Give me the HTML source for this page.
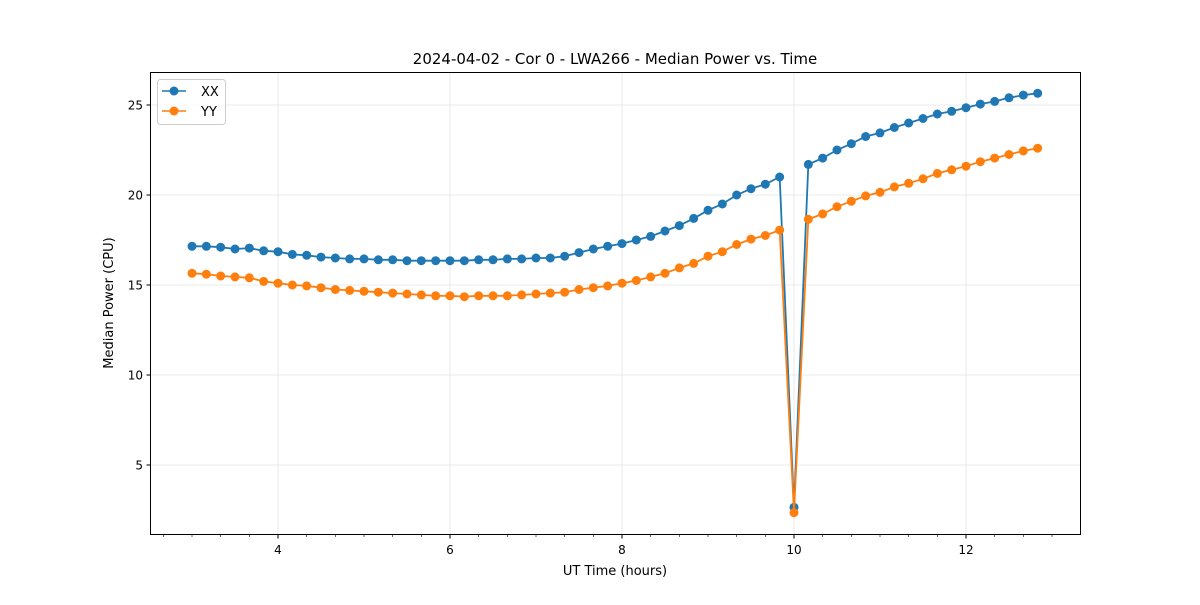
<!DOCTYPE html>
<html><head><meta charset="utf-8"><style>
body{margin:0;background:#fff;font-family:"Liberation Sans","DejaVu Sans",sans-serif;}
svg text{font-family:"DejaVu Sans","Liberation Sans",sans-serif;}
</style></head><body>
<svg id="chart" width="1200" height="600" xmlns="http://www.w3.org/2000/svg">
<rect width="1200" height="600" fill="#fff"/>
<g id="grid"></g><g id="axes"></g><g id="series"></g>
<rect x="150.5" y="72.5" width="930" height="462" fill="none" stroke="#000" stroke-width="1"/>
<text x="615" y="64" font-size="15" text-anchor="middle">2024-04-02 - Cor 0 - LWA266 - Median Power vs. Time</text>
<text x="615" y="575" font-size="13" text-anchor="middle">UT Time (hours)</text>
<text transform="translate(113,303) rotate(-90)" font-size="13" text-anchor="middle">Median Power (CPU)</text>
<g>
<rect x="157.5" y="79.5" width="68" height="45" rx="3" fill="#fff" fill-opacity="0.8" stroke="#ccc"/>
<g><line x1="162" x2="186" y1="91" y2="91" stroke="#1f77b4" stroke-width="1.5"/><circle cx="174" cy="91" r="4.5" fill="#1f77b4"/><text x="201" y="96" font-size="13">XX</text></g>
<g><line x1="162" x2="186" y1="111" y2="111" stroke="#ff7f0e" stroke-width="1.5"/><circle cx="174" cy="111" r="4.5" fill="#ff7f0e"/><text x="201" y="116" font-size="13">YY</text></g>
</g>
</svg>
<script>
const xTicks=[4,6,8,10,12];
const yTicks=[5,10,15,20,25];
const xx=[17.15,17.15,17.1,17.0,17.05,16.9,16.85,16.7,16.65,16.55,16.5,16.45,16.45,16.4,16.4,16.35,16.35,16.35,16.35,16.35,16.4,16.4,16.45,16.45,16.5,16.5,16.6,16.8,17.0,17.15,17.3,17.5,17.7,18.0,18.3,18.7,19.15,19.5,20.0,20.35,20.6,21.0,2.65,21.7,22.05,22.5,22.85,23.25,23.45,23.75,24.0,24.25,24.5,24.65,24.85,25.05,25.2,25.4,25.55,25.65];
const yy=[15.65,15.6,15.5,15.45,15.4,15.2,15.1,15.0,14.95,14.85,14.75,14.7,14.65,14.6,14.55,14.5,14.45,14.4,14.4,14.35,14.4,14.4,14.4,14.45,14.5,14.55,14.6,14.75,14.85,14.95,15.1,15.25,15.45,15.65,15.95,16.2,16.6,16.85,17.25,17.55,17.75,18.05,2.35,18.65,18.95,19.35,19.65,19.95,20.15,20.45,20.65,20.9,21.2,21.4,21.6,21.85,22.05,22.25,22.45,22.6];
const times=xx.map((_,i)=>3+i/6);
const X=v=>278+(v-4)*86, Y=v=>555-v*18;
const NS="http://www.w3.org/2000/svg";
function mk(p,t,a){const e=document.createElementNS(NS,t);for(const k in a)e.setAttribute(k,a[k]);p.appendChild(e);return e;}
const grid=document.getElementById('grid'),axes=document.getElementById('axes'),ser=document.getElementById('series');
xTicks.forEach(v=>{
 const g=mk(grid,'line',{x1:X(v),x2:X(v),y1:73,y2:534,stroke:'#e5e5e5','stroke-width':0.8});
 
 
 const t=mk(axes,'line',{x1:X(v),x2:X(v),y1:535,y2:538.5,stroke:'#000'});
 
 
 const l=mk(axes,'text',{x:X(v),y:554,'font-size':12,'text-anchor':'middle'});l.textContent=v;
 
 
});
for(let k=8;k<=39;k++){if(k%6===0)continue;const v=k/3;
 const m=mk(axes,'line',{x1:X(v),x2:X(v),y1:535,y2:537,stroke:'#000','stroke-width':0.6});
 
 }
yTicks.forEach(v=>{
 const g=mk(grid,'line',{x1:151,x2:1080,y1:Y(v),y2:Y(v),stroke:'#e5e5e5','stroke-width':0.8});
 
 
 const t=mk(axes,'line',{x1:146.5,x2:150,y1:Y(v),y2:Y(v),stroke:'#000'});
 
 
 const l=mk(axes,'text',{x:143,y:Y(v)+4.5,'font-size':12,'text-anchor':'end'});l.textContent=v;
 
 
});
[[xx,'#1f77b4','xx'],[yy,'#ff7f0e','yy']].forEach(([d,c,n])=>{
 const g=mk(ser,'g',{});
 
 
 const pl=mk(g,'polyline',{points:d.map((v,i)=>X(times[i])+','+Y(v)).join(' '),fill:'none',stroke:c,'stroke-width':1.8});
 
 
 d.forEach((v,i)=>{const p=mk(g,'circle',{cx:X(times[i]),cy:Y(v),r:4.5,fill:c});
  
  });
});
</script>
</body></html>
